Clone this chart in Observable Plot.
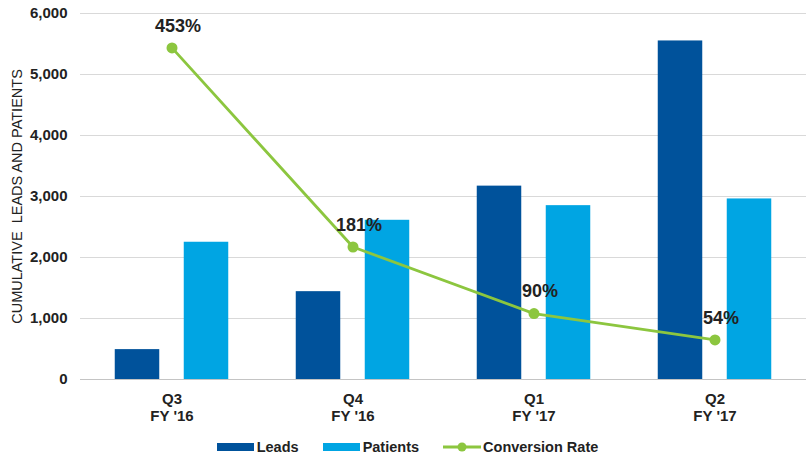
<!DOCTYPE html>
<html>
<head>
<meta charset="utf-8">
<script src="https://cdn.jsdelivr.net/npm/d3@7"></script>
<script src="https://cdn.jsdelivr.net/npm/@observablehq/plot@0.6"></script>
<style>
  html, body { margin: 0; padding: 0; background: #fff; }
  body { width: 806px; height: 454px; overflow: hidden; font-family: "Liberation Sans", Arial, sans-serif; }
  #legend { display: flex; justify-content: center; align-items: center; height: 24px; margin-top: 5px; padding-left: 9px;
            font-size: 14.5px; font-weight: bold; color: #222; }
  .item { display: flex; align-items: center; margin-right: 24px; }
  .item:last-child { margin-right: 0; }
  .sw { width: 37px; height: 8px; margin-right: 3px; }
</style>
</head>
<body>
<div id="chart"></div>
<div id="legend"></div>
<script>
// ---- data ----
const quarters = ["Q3\nFY '16", "Q4\nFY '16", "Q1\nFY '17", "Q2\nFY '17"];
const leads = [490, 1440, 3170, 5550];
const patients = [2250, 2610, 2850, 2960];
const conversionRate = [453, 181, 90, 54]; // percent
const yTicks = [0, 1000, 2000, 3000, 4000, 5000, 6000];
const yMax = 6000;
const rateAxisMax = 500; // hidden secondary axis: 0–500%

const colors = { leads: "#00529B", patients: "#00A5E3", rate: "#8CC63F" };

const rows = quarters.map((q, i) => ({
  q, leads: leads[i], patients: patients[i], rate: conversionRate[i],
  rateY: conversionRate[i] / rateAxisMax * yMax
}));

const font = "'Liberation Sans', Arial, sans-serif";

const chart = Plot.plot({
  width: 806,
  height: 430,
  marginTop: 13,
  marginBottom: 51,
  marginLeft: 80,
  marginRight: 0,
  style: { fontFamily: font, fontSize: "15px", fontWeight: "bold", color: "#222", background: "#fff" },
  x: { domain: quarters, padding: 0, label: null },
  y: { domain: [0, yMax], label: null },
  marks: [
    Plot.gridY(yTicks, { stroke: "#d9d9d9", strokeOpacity: 1, strokeWidth: 1 }),
    Plot.ruleY([0], { stroke: "#c4c4c4", strokeWidth: 1 }),
    Plot.barY(rows, { x: "q", y: "leads", fill: colors.leads, insetLeft: 33.75, insetRight: 102.75 }),
    Plot.barY(rows, { x: "q", y: "patients", fill: colors.patients, insetLeft: 102.75, insetRight: 33.75 }),
    Plot.line(rows, { x: "q", y: "rateY", stroke: colors.rate, strokeWidth: 2.8 }),
    Plot.dot(rows, { x: "q", y: "rateY", fill: colors.rate, r: 5.5, stroke: null }),
    Plot.text(rows, { x: "q", y: "rateY", text: d => d.rate + "%", dy: -22, dx: 6, fontSize: 18, fontWeight: "bold", fill: "#222" }),
    Plot.axisY(yTicks, { tickSize: 0, tickPadding: 13, tickFormat: d3.format(","), label: null, fontSize: 15, fontWeight: "bold", fill: "#222" }),
    Plot.axisX({ tickSize: 0, tickPadding: 13, label: null, lineHeight: 1.1, fontSize: 15, fontWeight: "bold", fill: "#222" }),
    Plot.text(["CUMULATIVE  LEADS AND PATIENTS"], { frameAnchor: "left", textAnchor: "middle", rotate: -90, dx: -63, fontSize: 14.5, fontWeight: "normal", fill: "#222" })
  ]
});
document.getElementById("chart").appendChild(chart);

// ---- legend ----
const legend = document.getElementById("legend");
legend.innerHTML = `
  <div class="item"><div class="sw" style="background:${colors.leads}"></div>Leads</div>
  <div class="item"><div class="sw" style="background:${colors.patients}"></div>Patients</div>
  <div class="item"><svg width="38" height="12" style="margin-right:2px"><line x1="0" y1="6" x2="38" y2="6" stroke="${colors.rate}" stroke-width="3"/><circle cx="19" cy="6" r="4.5" fill="${colors.rate}"/></svg>Conversion Rate</div>`;
</script>
</body>
</html>
